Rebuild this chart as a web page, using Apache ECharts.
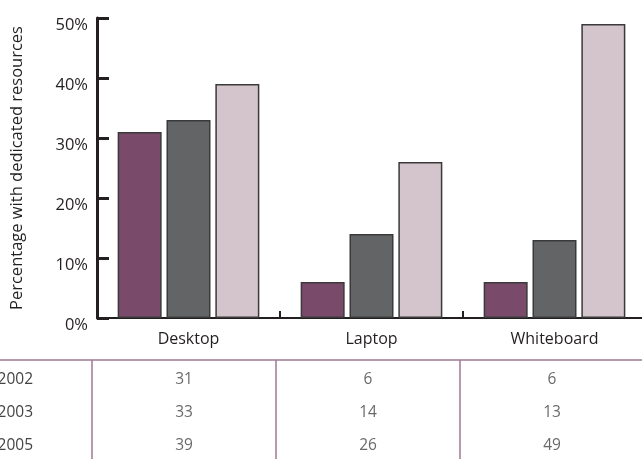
<!DOCTYPE html>
<html><head><meta charset="utf-8">
<script src="https://cdn.jsdelivr.net/npm/echarts@6/dist/echarts.min.js"></script>
<style>html,body{margin:0;padding:0;background:#fff}#c{width:642px;height:459px}</style>
</head><body><div id="c"></div>
<script>
const categories = ['Desktop', 'Laptop', 'Whiteboard'];
const years = ['2002', '2003', '2005'];
const v2002 = [31, 6, 6];
const v2003 = [33, 14, 13];
const v2005 = [39, 26, 49];
const yTicks = [0, 10, 20, 30, 40, 50];

const seriesValues = [v2002, v2003, v2005];
const colors = ['#7a4a6b', '#636466', '#d4c4cb'];
const font = '"Open Sans", "Noto Sans", sans-serif';

const chart = echarts.init(document.getElementById('c'), null, {renderer: 'canvas'});

const barSeries = years.map((y, i) => ({
  name: y, type: 'bar', xAxisIndex: 0, yAxisIndex: 0,
  data: seriesValues[i],
  barWidth: 44, barGap: '11%',
  itemStyle: {color: colors[i], borderColor: '#3a3a3a', borderWidth: 1.5},
  animation: false
}));

const tableData = [];
years.forEach((y, i) => categories.forEach((c, j) => tableData.push([c, y, seriesValues[i][j]])));

chart.setOption({
  animation: false,
  textStyle: {fontFamily: font},
  grid: [
    {left: 97, top: 18, height: 300, right: -4, outerBoundsMode: 'none', containLabel: false},
    {left: 92, top: 360, bottom: 0, right: -2, outerBoundsMode: 'none', containLabel: false}
  ],
  xAxis: [
    {type: 'category', gridIndex: 0, data: categories,
     axisLine: {lineStyle: {color: '#231f20', width: 2}},
     axisTick: {show: true, inside: true, length: 7, lineStyle: {color: '#231f20', width: 2}},
     axisLabel: {fontSize: 16, color: '#231f20', margin: 13, fontFamily: font}},
    {type: 'category', gridIndex: 1, data: categories, position: 'top',
     axisLine: {show: false}, axisTick: {show: false}, axisLabel: {show: false},
     splitLine: {show: true, lineStyle: {color: '#9a7890', width: 1.5}}}
  ],
  yAxis: [
    {type: 'value', gridIndex: 0, min: yTicks[0], max: yTicks[yTicks.length - 1], interval: 10,
     name: 'Percentage with dedicated resources', nameLocation: 'middle', nameGap: 71,
     nameTextStyle: {fontSize: 16.5, color: '#231f20', fontFamily: font},
     axisLine: {show: true, lineStyle: {color: '#231f20', width: 3}},
     axisTick: {show: true, inside: true, length: 12, lineStyle: {color: '#231f20', width: 3}},
     splitLine: {show: false},
     axisLabel: {fontSize: 16.5, color: '#231f20', margin: 9, verticalAlign: 'top', lineHeight: 14, formatter: '{value}%', fontFamily: font}},
    {type: 'category', gridIndex: 1, data: years, inverse: true,
     axisLine: {show: false}, axisTick: {show: false},
     axisLabel: {interval: 0, hideOverlap: false, fontSize: 15.5, color: '#444', margin: 59, verticalAlign: 'top', lineHeight: 6, fontFamily: font}}
  ],
  graphic: [
    {type: 'line', shape: {x1: 0, y1: 360, x2: 642, y2: 360}, style: {stroke: '#9a7890', lineWidth: 1.5}, z: 10}
  ],
  series: barSeries.concat([{
    type: 'scatter', xAxisIndex: 1, yAxisIndex: 1, symbolSize: 0,
    data: tableData,
    label: {show: true, position: 'inside', offset: [0, 3.5], fontSize: 15.5, color: '#444', fontFamily: font,
            formatter: p => String(p.value[2])}
  }])
});
</script></body></html>
